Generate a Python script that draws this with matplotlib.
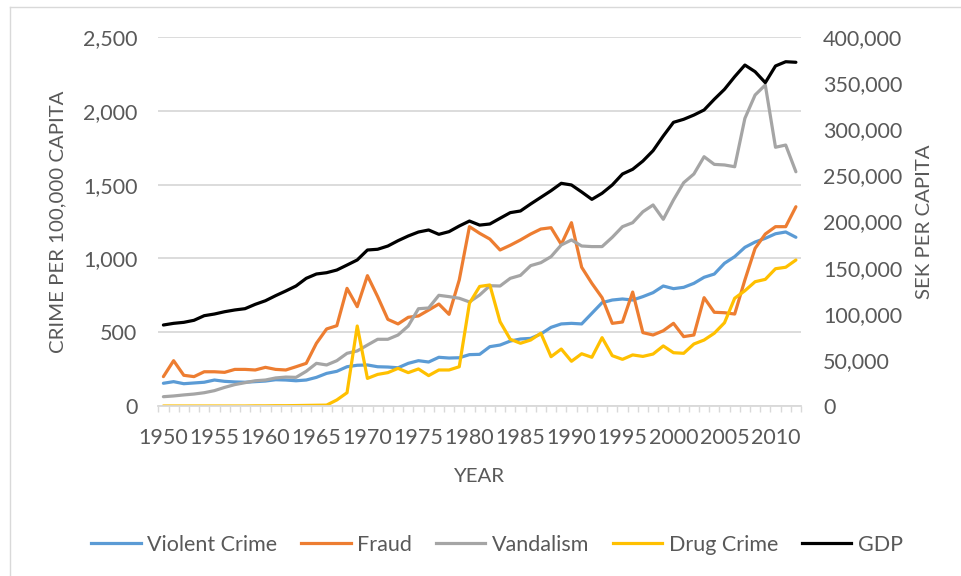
import matplotlib
matplotlib.use("Agg")
import matplotlib.pyplot as plt
from matplotlib.lines import Line2D
from matplotlib.ticker import FuncFormatter, MultipleLocator

plt.rcParams['font.family'] = ['Lato', 'DejaVu Sans']

years = list(range(1950, 2013))

violent = [154, 165, 151, 156, 161, 176, 167, 163, 161, 165,
           169, 178, 176, 171, 176, 194, 221, 235, 266, 276,
           278, 266, 264, 259, 289, 307, 298, 330, 325, 327,
           348, 350, 402, 413, 440, 454, 458, 488, 533, 556,
           560, 556, 628, 700, 718, 725, 718, 741, 768, 813,
           795, 804, 831, 872, 894, 967, 1012, 1075, 1111, 1136,
           1167, 1179, 1143]

fraud = [199, 307, 208, 199, 232, 232, 228, 248, 248, 244,
         262, 248, 244, 266, 289, 425, 522, 544, 797, 673,
         883, 741, 587, 556, 601, 610, 650, 691, 621, 854,
         1215, 1170, 1131, 1057, 1089, 1125, 1165, 1199, 1208, 1095,
         1242, 940, 831, 734, 560, 569, 772, 497, 481, 510,
         560, 470, 481, 734, 635, 632, 623, 854, 1068, 1165,
         1215, 1215, 1350]

vandalism = [63, 68, 75, 81, 90, 104, 126, 145, 158, 171,
             176, 190, 196, 194, 235, 289, 278, 307, 357, 373,
             413, 452, 452, 481, 542, 659, 664, 750, 741, 730,
             705, 752, 815, 813, 865, 885, 951, 971, 1012, 1091,
             1125, 1084, 1080, 1080, 1143, 1215, 1242, 1316, 1362, 1265,
             1396, 1513, 1572, 1689, 1637, 1633, 1621, 1949, 2107, 2175,
             1753, 1768, 1587]

drug = [0, 0, 0, 0, 0, 0, 0, 0, 0, 1,
        1, 2, 2, 3, 4, 5, 6, 41, 90, 542,
        187, 214, 226, 255, 226, 251, 206, 244, 244, 266,
        696, 810, 820, 571, 452, 425, 447, 493, 334, 386,
        303, 354, 330, 463, 341, 316, 346, 336, 352, 407,
        361, 357, 420, 447, 493, 564, 730, 781, 842, 858,
        930, 940, 989]

gdp = [87800, 89600, 90700, 92900, 97900, 99700, 102200, 104100, 105500, 110200,
       114100, 119600, 124700, 130100, 138400, 143100, 144500, 147400, 152800, 158300,
       169100, 169900, 173400, 179200, 184300, 188600, 190800, 186100, 189000, 195100,
       200500, 196100, 197300, 203500, 209600, 211400, 219000, 226200, 233400, 241400,
       239600, 232000, 224000, 230600, 239600, 251500, 256600, 265500, 276800, 292700,
       307500, 310800, 315400, 320900, 332500, 343300, 357000, 369600, 362400, 350500,
       368600, 373200, 372600]

crime_series = [
    ("Violent Crime", violent, "#5B9BD5"),
    ("Fraud", fraud, "#ED7D31"),
    ("Vandalism", vandalism, "#A5A5A5"),
    ("Drug Crime", drug, "#FFC000"),
]

text_col = "#595959"
grid_col = "#d9d9d9"
W, H = 962, 576

fig = plt.figure(figsize=(W / 100, H / 100), dpi=100)
ax = fig.add_axes([158.3 / W, 1 - 406 / H, (801 - 158.3) / W, (406 - 37) / H])
ax2 = ax.twinx()

for name, vals, col in crime_series:
    ax.plot(years, vals, color=col, lw=2.3, solid_capstyle='round', label=name)
ax2.plot(years, gdp, color="black", lw=2.3, solid_capstyle='round', label="GDP")

ax.set_xlim(1949.5, 2012.5)
ax.set_ylim(0, 2500)
ax2.set_ylim(0, 400000)

ax.yaxis.set_major_locator(MultipleLocator(500))
ax2.yaxis.set_major_locator(MultipleLocator(50000))
ax.yaxis.set_major_formatter(FuncFormatter(lambda v, p: f"{int(v):,}"))
ax2.yaxis.set_major_formatter(FuncFormatter(lambda v, p: f"{int(v):,}"))

ax.set_xticks(list(range(1950, 2011, 5)))
ax.set_xticks([y - 0.5 for y in years] + [2012.5], minor=True)

ax.grid(axis='y', color=grid_col, lw=1.3)
ax.set_axisbelow(True)
for s in ["top", "left", "right"]:
    ax.spines[s].set_visible(False)
for s in ax2.spines.values():
    s.set_visible(False)
ax.spines["bottom"].set_color(grid_col)
ax.spines["bottom"].set_linewidth(1.3)

ax.tick_params(axis='y', length=0, pad=15, labelsize=15.5, labelcolor=text_col)
ax2.tick_params(axis='y', length=0, pad=16, labelsize=15.5, labelcolor=text_col)
ax.tick_params(axis='x', which='major', length=0, pad=16, labelsize=15.5, labelcolor=text_col)
ax.tick_params(axis='x', which='minor', length=4, width=1, color=grid_col)

fig.text(58 / W, 1 - 221.5 / H, "CRIME PER 100,000 CAPITA", rotation=90,
         ha='center', va='center', fontsize=14.7, color=text_col)
fig.text(925 / W, 1 - 221.5 / H, "SEK PER CAPITA", rotation=90,
         ha='center', va='center', fontsize=14.7, color=text_col)
fig.text(479.5 / W, 1 - 477 / H, "YEAR", ha='center', va='center',
         fontsize=14.7, color=text_col)

handles = [Line2D([], [], color=c, lw=2.3) for _, _, c in crime_series]
handles.append(Line2D([], [], color="black", lw=2.3))
labels = [n for n, _, _ in crime_series] + ["GDP"]
leg = fig.legend(handles, labels, loc='center', bbox_to_anchor=(497 / W, 1 - 545 / H),
                 ncol=5, frameon=False, fontsize=15.5, handlelength=2.3,
                 handletextpad=0.3, columnspacing=1.1)
for t in leg.get_texts():
    t.set_color(text_col)

# light frame around the chart area
fig.add_artist(Line2D([10 / W, 10 / W], [0, 1 - 7 / H], color=grid_col, lw=1))
fig.add_artist(Line2D([10 / W, 1], [1 - 7 / H, 1 - 7 / H], color=grid_col, lw=1))

fig.savefig("out.png", dpi=100)
